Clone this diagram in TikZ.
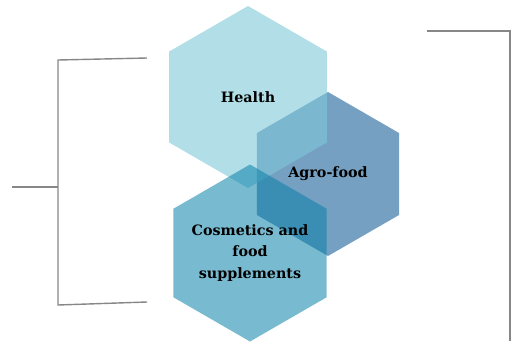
\documentclass[tikz,border=0pt]{standalone}
\usepackage{xcolor}
\usepackage{fontspec}
\setmainfont{DejaVu Serif}
\usepackage{tikz}
\usetikzlibrary{positioning, shapes.geometric, calc}

\definecolor{healthblue}{RGB}{127,200,217}
\definecolor{agroblue}{RGB}{117,160,193}
\definecolor{cosmblue}{RGB}{10,129,169}
\definecolor{bracketgray}{RGB}{135,135,135}

\begin{document}
\begin{tikzpicture}[x=1pt, y=-1pt, every node/.style={regular polygon, regular polygon sides=6, shape border rotate=30, inner sep=0pt, align=center, font=\bfseries\fontsize{14.3}{21.5}\selectfont}]
        \useasboundingbox (0,0) rectangle (512,341);
        % Sector hexagons
        \node[fill=agroblue, minimum size=164pt] (agro) at (328,174) {Agro-food};
        \node[fill=healthblue, fill opacity=0.6, text opacity=1, minimum size=182pt] (health) at (248,97) {Health};
        \node[fill=cosmblue, fill opacity=0.55, text opacity=1, minimum size=177pt, inner sep=-15pt] (cosm) at (250,253) {Cosmetics and\\food\\supplements};
        
        % Bracket points
        \coordinate (lmid) at (12,187);
        \coordinate (ljoin) at (58,187);
        \coordinate (ltop) at (58,60);
        \coordinate (lbot) at (58,305);
        \coordinate (ltopend) at (147,58);
        \coordinate (lbotend) at (147,302);
        \coordinate (rstart) at (427,31);
        \coordinate (rcorner) at (510,31);
        \coordinate (rend) at (510,341);
        
        % Brackets
        \draw[bracketgray, line width=1.4pt] (lmid) -- (ljoin);
        \draw[bracketgray, line width=1.4pt] (ltopend) -- (ltop) -- (lbot) -- (lbotend);
        \draw[bracketgray, line width=1.4pt] (rstart) -- (rcorner) -- (rend);
    \end{tikzpicture}
\end{document}
